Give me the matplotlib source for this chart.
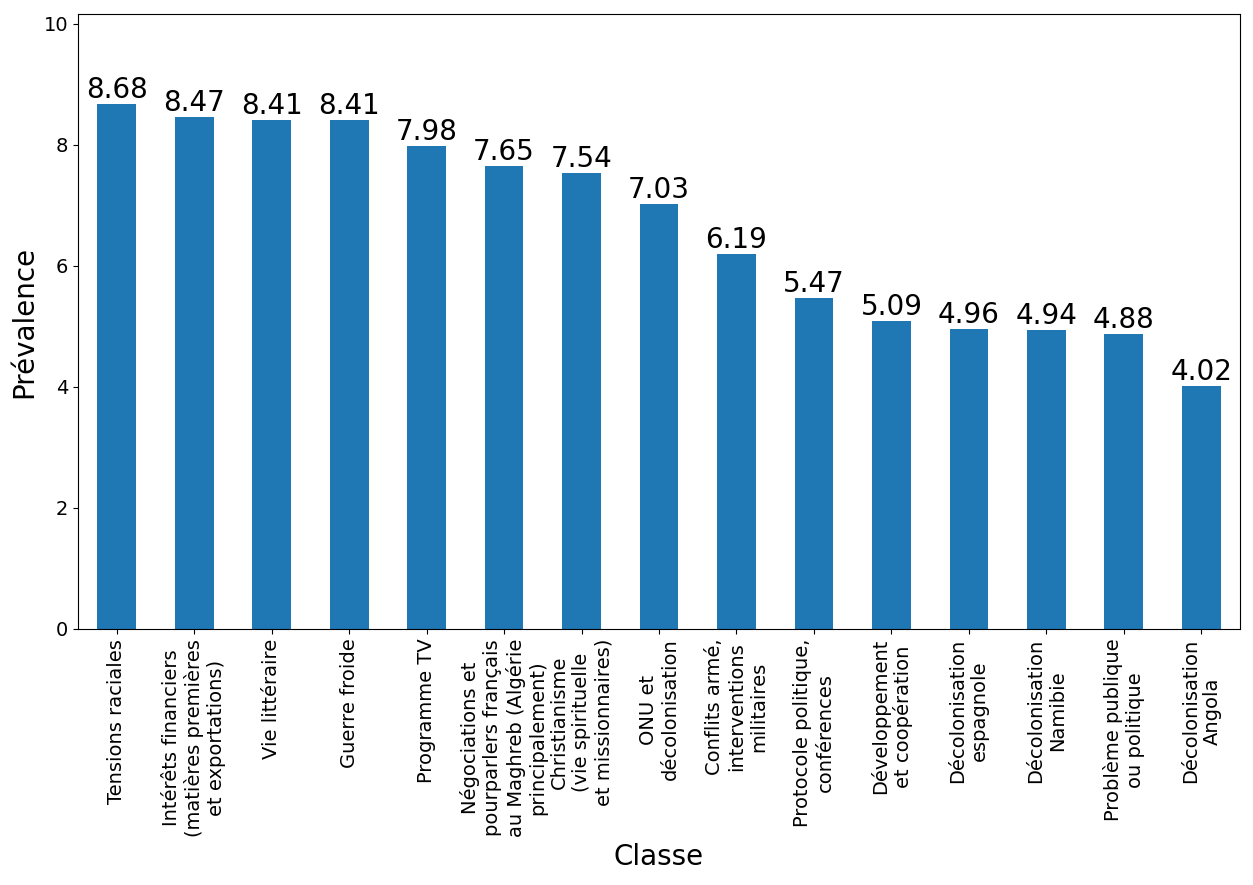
import numpy as np
import matplotlib.pyplot as plt

classes = [
    'Tensions raciales',
    'Intérêts financiers\n(matières premières\net exportations)',
    'Vie littéraire',
    'Guerre froide',
    'Programme TV',
    'Négociations et\npourparlers français\nau Maghreb (Algérie\nprincipalement)',
    'Christianisme\n(vie spirituelle\net missionnaires)',
    'ONU et\ndécolonisation',
    'Conflits armé,\ninterventions\nmilitaires',
    'Protocole politique,\nconférences',
    'Développement\net coopération',
    'Décolonisation\nespagnole',
    'Décolonisation\nNamibie',
    'Problème publique\nou politique',
    'Décolonisation\nAngola',
]
prevalence = [8.68, 8.47, 8.41, 8.41, 7.98, 7.65, 7.54, 7.03, 6.19, 5.47,
              5.09, 4.96, 4.94, 4.88, 4.02]

fig = plt.figure(figsize=(12.53, 8.85), dpi=100)
ax = fig.add_axes([78 / 1253, 1 - 629 / 885, (1240 - 78) / 1253, (629 - 14) / 885])

x = np.arange(len(classes))
bars = ax.bar(x, prevalence, width=0.5, color='#1f77b4')
for xi, v in zip(x, prevalence):
    ax.text(xi, v, f'{v:.2f}', ha='center', va='bottom', fontsize=20)

ax.set_xlim(-0.5, len(classes) - 0.5)
ax.set_ylim(0, 10.165)
ax.set_xticks(x)
ax.set_xticklabels(classes, rotation=90, fontsize=14, multialignment='center')
ax.tick_params(axis='y', labelsize=14)
ax.set_xlabel('Classe', fontsize=20)
ax.set_ylabel('Prévalence', fontsize=20)

fig.savefig('out.png', dpi=100)
